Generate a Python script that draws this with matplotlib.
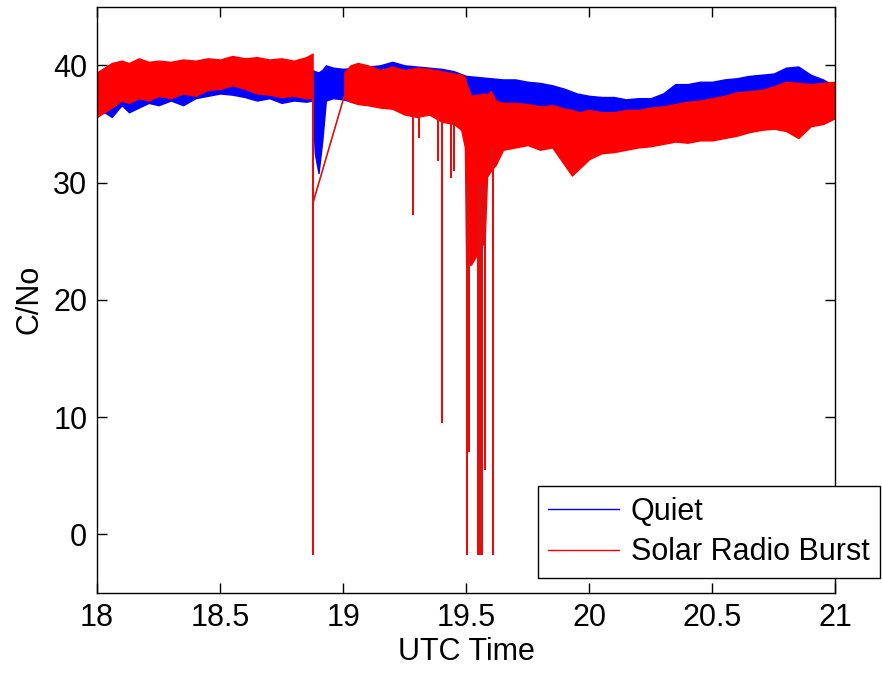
import matplotlib
matplotlib.use("Agg")
import matplotlib.pyplot as plt
from matplotlib.lines import Line2D

plt.rcParams['font.family'] = ['Liberation Sans', 'DejaVu Sans']

# Quiet day C/No envelope (upper / lower edge of the noisy trace)
quiet_t = [18.00, 18.03, 18.06, 18.10, 18.13, 18.17, 18.21, 18.25, 18.30, 18.35,
           18.40, 18.45, 18.50, 18.55, 18.60, 18.65, 18.70, 18.75, 18.80, 18.85,
           18.875, 18.885, 18.90, 18.915, 18.93, 18.96, 19.00, 19.05, 19.10, 19.15,
           19.20, 19.25, 19.30, 19.35, 19.40, 19.45, 19.50, 19.55, 19.60, 19.65,
           19.70, 19.75, 19.80, 19.85, 19.90, 19.95, 20.00, 20.05, 20.10, 20.15,
           20.20, 20.25, 20.30, 20.35, 20.40, 20.45, 20.50, 20.55, 20.60, 20.65,
           20.70, 20.75, 20.80, 20.85, 20.90, 20.95, 21.00]
quiet_hi = [38.5, 39.2, 39.4, 39.5, 39.3, 39.6, 39.5, 39.4, 39.3, 39.5,
            39.6, 39.6, 39.7, 39.9, 39.8, 39.6, 39.5, 39.6, 39.6, 39.7,
            39.6, 39.5, 39.4, 39.6, 40.0, 39.8, 39.7, 39.8, 39.9, 40.0,
            40.3, 40.0, 39.9, 39.8, 39.7, 39.5, 39.1, 39.0, 38.9, 38.8,
            38.8, 38.6, 38.5, 38.3, 38.0, 37.6, 37.4, 37.3, 37.3, 37.1,
            37.2, 37.2, 37.6, 38.4, 38.4, 38.6, 38.6, 38.8, 38.9, 39.1,
            39.2, 39.3, 39.8, 39.9, 39.2, 38.8, 38.2]
quiet_lo = [35.8, 36.0, 35.6, 36.6, 36.0, 36.4, 36.8, 36.6, 37.0, 36.6,
            37.2, 37.4, 37.6, 37.5, 37.3, 37.0, 37.2, 36.8, 37.0, 36.9,
            37.0, 32.5, 30.8, 33.5, 37.0, 37.2, 37.1, 36.8, 36.8, 36.6,
            36.6, 36.6, 36.6, 36.8, 36.8, 36.9, 36.8, 36.6, 36.5, 36.3,
            36.2, 36.1, 36.0, 35.9, 35.8, 35.7, 35.6, 35.6, 35.6, 35.6,
            35.6, 35.7, 35.8, 35.9, 36.0, 36.0, 36.0, 36.2, 36.2, 36.3,
            36.4, 36.4, 36.4, 36.0, 35.3, 35.0, 35.6]

# Solar radio burst day, before the data gap
burst_t1 = [18.00, 18.03, 18.06, 18.10, 18.13, 18.17, 18.21, 18.25, 18.30, 18.35,
            18.40, 18.45, 18.50, 18.55, 18.60, 18.65, 18.70, 18.75, 18.80, 18.85,
            18.876]
burst_hi1 = [39.4, 39.8, 40.2, 40.4, 40.2, 40.6, 40.3, 40.4, 40.3, 40.5,
             40.4, 40.6, 40.5, 40.8, 40.6, 40.7, 40.5, 40.6, 40.4, 40.7,
             41.0]
burst_lo1 = [35.6, 36.0, 36.4, 37.0, 36.8, 37.2, 37.0, 37.4, 37.2, 37.6,
             37.4, 37.9, 38.0, 38.3, 38.0, 37.6, 37.5, 37.3, 37.4, 37.2,
             37.2]

# after the gap
burst_t2 = [19.005, 19.03, 19.06, 19.10, 19.15, 19.20, 19.25, 19.30, 19.35, 19.40,
            19.45, 19.48, 19.495, 19.50, 19.52, 19.575, 19.585, 19.60, 19.62, 19.65,
            19.70, 19.75, 19.80, 19.85, 19.90, 19.93, 19.96, 20.00, 20.05, 20.10,
            20.15, 20.20, 20.25, 20.30, 20.35, 20.40, 20.45, 20.50, 20.55, 20.60,
            20.65, 20.70, 20.75, 20.80, 20.85, 20.90, 20.95, 21.00]
burst_hi2 = [39.4, 40.0, 40.2, 40.0, 39.6, 39.9, 39.6, 39.8, 39.7, 39.5,
             39.3, 39.2, 39.0, 38.5, 37.4, 37.6, 37.5, 37.8, 37.0, 36.8,
             36.8, 36.7, 36.5, 36.6, 36.3, 36.2, 36.0, 36.2, 36.0, 36.0,
             36.2, 36.2, 36.4, 36.5, 36.7, 36.9, 37.0, 37.2, 37.4, 37.7,
             37.8, 37.9, 38.2, 38.6, 38.5, 38.4, 38.5, 38.6]
burst_lo2 = [37.2, 36.9, 36.7, 36.6, 36.4, 36.3, 35.8, 35.6, 35.8, 35.2,
             35.0, 34.5, 33.0, 23.0, 23.0, 25.0, 30.5, 31.0, 31.5, 32.8,
             33.0, 33.2, 32.8, 33.0, 31.5, 30.6, 31.2, 32.0, 32.5, 32.6,
             32.8, 33.0, 33.1, 33.3, 33.5, 33.4, 33.6, 33.6, 33.8, 34.0,
             34.3, 34.5, 34.6, 34.4, 33.8, 34.8, 35.0, 35.5]

# straight segment drawn across the gap
gap_t = [18.878, 19.005]
gap_v = [28.3, 37.4]

# deep fades (time, minimum C/No, level the fade starts from)
fade_t = [18.878, 19.283, 19.31, 19.385, 19.40, 19.44, 19.452, 19.505, 19.512,
          19.548, 19.555, 19.565, 19.575, 19.60, 19.61]
fade_min = [-1.8, 27.2, 33.8, 31.8, 9.5, 30.4, 31.0, -1.8, 7.0,
            -1.8, -1.8, -1.8, 5.5, 31.0, -1.8]
fade_top = [37.2, 36.0, 36.0, 35.5, 35.5, 35.2, 35.2, 30.0, 30.0,
            30.0, 30.0, 30.0, 30.0, 33.0, 33.0]

fig = plt.figure(figsize=(8.82, 6.73), dpi=100)
ax = fig.add_axes([0.110, 0.119, 0.837, 0.871])

ax.fill_between(quiet_t, quiet_lo, quiet_hi, color='blue', linewidth=1)
ax.fill_between(burst_t1, burst_lo1, burst_hi1, color='red', linewidth=1)
ax.fill_between(burst_t2, burst_lo2, burst_hi2, color='red', linewidth=1)
ax.plot(gap_t, gap_v, color='#e01010', linewidth=1.2)
ax.vlines(fade_t, fade_min, fade_top, color='#e01010', linewidth=1.5)

ax.set_xlim(18, 21)
ax.set_ylim(-5, 45)
ax.set_xticks([18, 18.5, 19, 19.5, 20, 20.5, 21])
ax.set_xticklabels(['18', '18.5', '19', '19.5', '20', '20.5', '21'])
ax.set_yticks([0, 10, 20, 30, 40])
ax.tick_params(direction='in', length=7, width=1, top=True, right=True,
               labelsize=22, pad=7)
for s in ax.spines.values():
    s.set_linewidth(1)
ax.set_xlabel('UTC Time', fontsize=22, labelpad=3)
ax.set_ylabel('C/No', fontsize=22, labelpad=6)

handles = [Line2D([], [], color='blue', linewidth=1),
           Line2D([], [], color='red', linewidth=1)]
leg = ax.legend(handles, ['Quiet', 'Solar Radio Burst'], loc='lower right',
                bbox_to_anchor=(0.998, 0.141), bbox_transform=fig.transFigure,
                borderaxespad=0, fontsize=22, fancybox=False, framealpha=1,
                edgecolor='black', handlelength=2.3, handletextpad=0.4,
                labelspacing=0.35, borderpad=0.35)
leg.get_frame().set_linewidth(1)

fig.savefig('out.png', dpi=100)
